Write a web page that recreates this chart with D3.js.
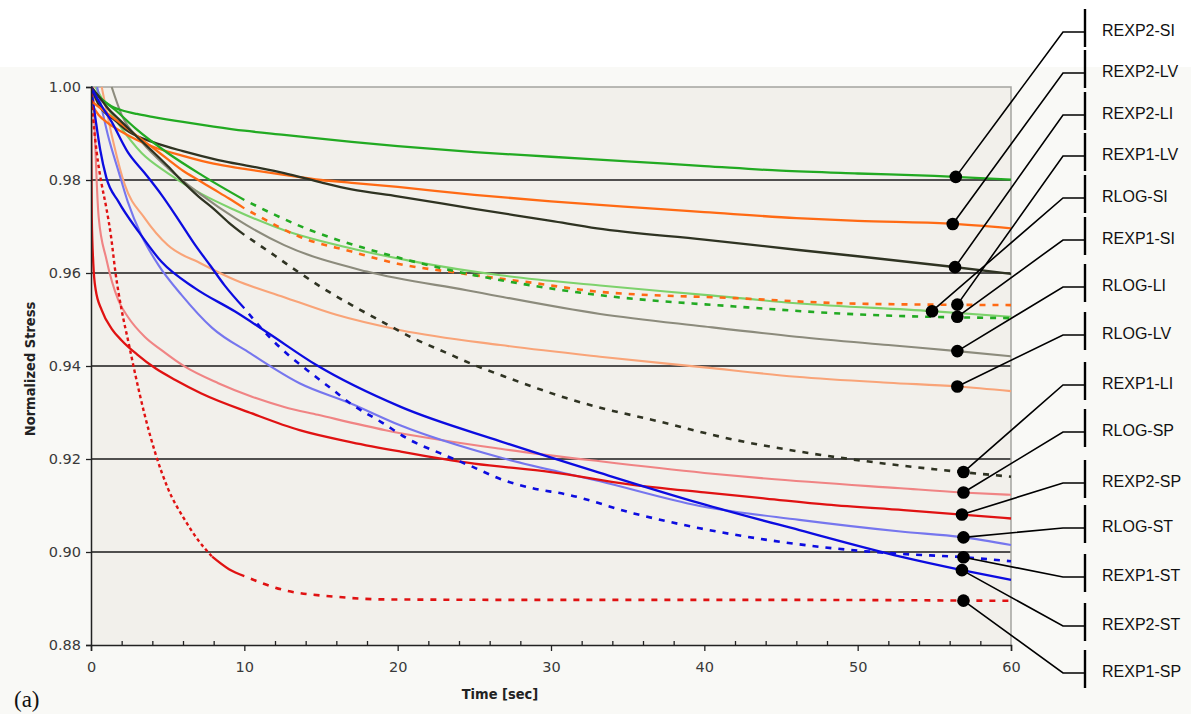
<!DOCTYPE html>
<html>
<head>
<meta charset="utf-8">
<script src="https://cdn.jsdelivr.net/npm/d3@7"></script>
<style>
  body { margin: 0; background: #fff; }
</style>
</head>
<body>
<svg width="1191" height="714"></svg>
<script>
// values: [time (sec), normalized stress]
var rexp2SI = [[0,1],[0.5,0.998],[1,0.9966],[1.5,0.9956],[2,0.995],[3,0.9942],[4,0.9936],[6,0.9925],[8,0.9915],[10,0.9906],[12.6,0.9897],[17,0.9882],[20,0.9873],[25,0.986],[30,0.985],[35,0.984],[40,0.983],[45,0.982],[50,0.9814],[55,0.9809],[60,0.9801]];
var rexp2LV = [[0,0.9965],[0.5,0.994],[1,0.9925],[2,0.9904],[3,0.9886],[4,0.9872],[6,0.9852],[8,0.9835],[10,0.9824],[12.6,0.9811],[15,0.98],[17,0.9794],[20,0.9785],[25,0.9768],[30,0.9754],[35,0.9742],[40,0.9731],[46,0.9718],[50,0.9712],[56,0.9706],[60,0.9696]];
var rexp2LI = [[0,1],[0.25,0.998],[0.5,0.9962],[1,0.9942],[1.5,0.993],[2.4,0.9905],[4,0.9882],[6,0.9862],[8.3,0.9843],[10.5,0.9829],[12.6,0.9815],[15,0.9795],[17,0.978],[20,0.9765],[25,0.9738],[30,0.9712],[33,0.9696],[40,0.9672],[46,0.965],[50,0.9636],[56,0.9614],[60,0.9598]];
var rexp1LV = [[0,0.997],[1,0.9945],[2,0.992],[3,0.9895],[4,0.987],[5,0.9845],[6,0.982],[7,0.98],[8,0.978],[9,0.976],[10,0.9739],[11,0.9721],[13.6,0.9678],[17,0.9646],[20,0.962],[24,0.96],[29,0.9578],[33,0.956],[42,0.9546],[50,0.9534],[60,0.9531]];
var rlogSI = [[0.3,1],[0.7,0.9976],[1.8,0.992],[3.3,0.9858],[5,0.9815],[7.2,0.977],[9.4,0.9735],[12.6,0.9692],[17.5,0.9649],[21,0.9625],[26.7,0.9595],[33.2,0.9573],[40,0.9553],[46,0.9535],[54.8,0.9518],[60,0.9506]];
var rexp1SI = [[0,1],[0.5,0.998],[1.6,0.995],[2.9,0.9911],[5,0.9858],[7.2,0.9811],[10,0.9757],[12,0.9725],[14,0.9696],[16,0.9672],[18,0.9652],[21,0.9625],[24,0.9602],[27,0.9583],[33,0.9553],[42,0.9528],[50,0.9511],[60,0.9503]];
var rlogLI = [[1.35,1],[2,0.994],[3.3,0.9882],[5,0.9826],[7.2,0.9768],[9.4,0.9718],[12.6,0.966],[18,0.9603],[24.5,0.9563],[33.2,0.9512],[40,0.9485],[46,0.9463],[52,0.9445],[56.5,0.9432],[60,0.9421]];
var rlogLV = [[0.7,1],[1.35,0.9897],[2.2,0.979],[3.5,0.9718],[5,0.966],[7.2,0.962],[9.4,0.9585],[12.6,0.9548],[16,0.951],[20.2,0.9477],[26.7,0.9445],[33.2,0.942],[40,0.9397],[46,0.9377],[52,0.9364],[56.5,0.9356],[60,0.9346]];
var rexp1LI = [[0,1],[0.5,0.998],[1,0.9958],[2,0.9925],[3,0.9893],[4,0.9862],[5,0.983],[6,0.9796],[7,0.9765],[8,0.9738],[9,0.9708],[10,0.9682],[12,0.9637],[13,0.9614],[15,0.957],[17,0.9531],[19,0.9495],[21,0.946],[23,0.9431],[25,0.9402],[27,0.9377],[29,0.9353],[31,0.9331],[33,0.9312],[36.5,0.9285],[42,0.9241],[46,0.9217],[50.6,0.9195],[55,0.9178],[60,0.9162]];
var rlogSP = [[0.15,1],[0.5,0.972],[1,0.963],[1.8,0.954],[2.4,0.9506],[3.5,0.9463],[4.6,0.9434],[6.1,0.9399],[8.3,0.9363],[10.5,0.9334],[12.6,0.9312],[14.8,0.9295],[19.2,0.9262],[26.7,0.9222],[33.2,0.9195],[40,0.917],[44,0.9158],[52.8,0.9137],[56.8,0.9128],[60,0.9123]];
var rexp2SP = [[0,0.995],[0.05,0.972],[0.15,0.962],[0.3,0.9565],[0.7,0.952],[1.35,0.948],[2,0.9455],[3,0.9425],[4.2,0.9395],[5.5,0.937],[7.2,0.9341],[10.5,0.9298],[13.6,0.9262],[17,0.9236],[20.2,0.9216],[25,0.919],[30,0.9172],[35,0.9146],[40,0.9128],[44,0.9115],[48,0.9102],[53,0.909],[57,0.908],[60,0.9072]];
var rlogST = [[0.4,1],[1.1,0.9897],[1.8,0.9818],[2.4,0.9753],[3.3,0.968],[4.4,0.9617],[5.9,0.9553],[7.9,0.9482],[10.4,0.9427],[13.6,0.9363],[16.9,0.932],[20.2,0.9272],[26.7,0.9203],[33.2,0.9152],[39.7,0.9099],[46.2,0.9069],[52.8,0.9044],[56.8,0.9032],[60,0.9015]];
var rexp1ST = [[0,1],[0.5,0.997],[1.35,0.9925],[2.4,0.986],[3.5,0.9815],[4.6,0.9768],[5.7,0.9715],[6.8,0.966],[7.8,0.9615],[8.7,0.9574],[10,0.9524],[11.7,0.946],[13,0.942],[14.1,0.9391],[15.8,0.9348],[16.9,0.932],[18.9,0.928],[20.8,0.9241],[22.8,0.9212],[24.9,0.9183],[26.7,0.9157],[28.8,0.9137],[31,0.9124],[35.4,0.9083],[39.7,0.9051],[44.1,0.9026],[48.4,0.9008],[52.8,0.8996],[56.8,0.8989],[60,0.898]];
var rexp2ST = [[0,1],[0.3,0.993],[0.6,0.9865],[1,0.9805],[1.8,0.9753],[3.1,0.9689],[4.6,0.9624],[6.8,0.9567],[9.4,0.9517],[11.5,0.9472],[14.7,0.9402],[20.2,0.9312],[26.7,0.9238],[33.2,0.917],[39.7,0.9105],[46.2,0.9047],[52.8,0.899],[56.8,0.8961],[60,0.894]];
var rexp1SP = [[0,1],[0.15,0.993],[0.37,0.986],[0.7,0.979],[1,0.974],[1.3,0.968],[1.6,0.96],[2,0.952],[2.45,0.945],[2.9,0.938],[3.5,0.9295],[4.2,0.9212],[5,0.9138],[6.1,0.907],[7,0.9025],[7.9,0.899],[9,0.8963],[10,0.8948],[12.6,0.8918],[15.9,0.8904],[19.2,0.8898],[30,0.8897],[45,0.8897],[60,0.8895]];

var xTicks = [0, 10, 20, 30, 40, 50, 60];
var yTicks = [0.88, 0.90, 0.92, 0.94, 0.96, 0.98, 1.00];

// legend order (top to bottom) and where the marker dot sits on each curve (sec)
var legendNames = ["REXP2-SI", "REXP2-LV", "REXP2-LI", "REXP1-LV", "RLOG-SI", "REXP1-SI", "RLOG-LI", "RLOG-LV",
                   "REXP1-LI", "RLOG-SP", "REXP2-SP", "RLOG-ST", "REXP1-ST", "REXP2-ST", "REXP1-SP"];
var legendData = [rexp2SI, rexp2LV, rexp2LI, rexp1LV, rlogSI, rexp1SI, rlogLI, rlogLV,
                  rexp1LI, rlogSP, rexp2SP, rlogST, rexp1ST, rexp2ST, rexp1SP];
var dotTimes = [56.4, 56.2, 56.35, 56.5, 54.85, 56.5, 56.5, 56.5, 56.9, 56.9, 56.8, 56.9, 56.9, 56.8, 56.9];

// layout of the label column
var legendY = [30, 71, 113, 154, 196, 238, 285, 333, 383, 430, 481, 526, 575, 624, 671];

var colors = {
    "SI": ["#22aa22", "#7dd26c"],
    "LV": ["#ff6a14", "#f9a478"],
    "LI": ["#2f3322", "#8c8b7c"],
    "SP": ["#e01212", "#f08484"],
    "ST": ["#0c0ce0", "#7676ee"]
};

var svg = d3.select("svg");

var x = d3.scaleLinear().domain([0, 60]).range([91, 1011]);
var y = d3.scaleLinear().domain([0.88, 1.0]).range([645, 87]);

// light panel behind the figure
svg.append("rect")
    .attr("x", 0).attr("y", 67)
    .attr("width", 1191).attr("height", 647)
    .attr("fill", "#f9f9f6");

// plot background
svg.append("rect")
    .attr("x", x(0)).attr("y", y(1))
    .attr("width", x(60) - x(0)).attr("height", y(0.88) - y(1))
    .attr("fill", "#f2f0eb");

svg.append("clipPath").attr("id", "plotclip")
    .append("rect")
    .attr("x", x(0)).attr("y", y(1) - 1)
    .attr("width", x(60) - x(0) + 1).attr("height", y(0.88) - y(1) + 1);

// grid lines
svg.append("g")
    .selectAll("line")
    .data(yTicks.filter(function (d) { return d > 0.885 && d < 0.995; }))
    .enter().append("line")
    .attr("x1", x(0)).attr("x2", x(60))
    .attr("y1", function (d) { return y(d); })
    .attr("y2", function (d) { return y(d); })
    .attr("stroke", "#1a1a1a")
    .attr("stroke-width", 1.3);

// top and right border
svg.append("path")
    .attr("d", "M" + x(0) + "," + y(1) + "H" + x(60) + "V" + y(0.88))
    .attr("fill", "none")
    .attr("stroke", "#a4a4a0")
    .attr("stroke-width", 1.5);

// curves
var line = d3.line()
    .x(function (d) { return x(d[0]); })
    .y(function (d) { return y(d[1]); })
    .curve(d3.curveMonotoneX);

var curves = svg.append("g").attr("clip-path", "url(#plotclip)");

function kindOf(name) { return name.split("-")[0]; }
function colorOf(name) {
    var c = colors[name.split("-")[1]];
    return kindOf(name) === "RLOG" ? c[1] : c[0];
}

function drawPart(data, from, to, col, width, dash) {
    var p = curves.append("path")
        .attr("d", line(data.filter(function (d) { return d[0] >= from && d[0] <= to; })))
        .attr("fill", "none")
        .attr("stroke", col)
        .attr("stroke-width", width);
    if (dash) p.attr("stroke-dasharray", dash);
}

// thin log curves first, then the thick exponential fits
var order = d3.range(legendNames.length).sort(function (a, b) {
    var rank = { "RLOG": 0, "REXP2": 1, "REXP1": 2 };
    return rank[kindOf(legendNames[a])] - rank[kindOf(legendNames[b])];
});

order.forEach(function (i) {
    var name = legendNames[i], data = legendData[i], kind = kindOf(name), col = colorOf(name);
    if (kind === "RLOG") {
        drawPart(data, 0, 60, col, 2.1);
    } else if (kind === "REXP2") {
        drawPart(data, 0, 60, col, 2.3);
    } else {
        // fitted on the first 10 sec, extrapolated (dashed) after that
        if (name === "REXP1-SP") {
            drawPart(data, 0, 7.9, col, 2.4, "3.5,3");
            drawPart(data, 7.9, 10, col, 2.3);
        } else {
            drawPart(data, 0, 10, col, 2.3);
        }
        drawPart(data, 10, 60, col, 2.6, "0,7,6,0");
    }
});

// axes
var yAxis = svg.append("g")
    .attr("transform", "translate(" + x(0) + ",0)")
    .call(d3.axisLeft(y).tickValues(yTicks).tickFormat(d3.format(".2f")).tickSize(5).tickPadding(5));

var xMinor = svg.append("g")
    .attr("transform", "translate(0," + y(0.88) + ")")
    .call(d3.axisBottom(x).tickValues(d3.range(0, 61, 2).filter(function (d) { return d % 10 !== 0; }))
        .tickSize(-4).tickFormat(""));

var xAxis = svg.append("g")
    .attr("transform", "translate(0," + y(0.88) + ")")
    .call(d3.axisBottom(x).tickValues(xTicks).tickSize(6).tickPadding(11));

[yAxis, xAxis, xMinor].forEach(function (g) {
    g.select(".domain").attr("stroke", "#222").attr("stroke-width", 1.5);
    g.selectAll(".tick line").attr("stroke", "#222").attr("stroke-width", 1.3);
    g.selectAll("text")
        .attr("font-family", "'DejaVu Sans', Verdana, sans-serif")
        .attr("font-size", 14.5)
        .attr("fill", "#3a3a3a");
});
xMinor.select(".domain").remove();

// axis titles
svg.append("text")
    .attr("x", 500).attr("y", 699)
    .attr("text-anchor", "middle")
    .attr("font-family", "'DejaVu Sans Condensed', 'DejaVu Sans', sans-serif")
    .attr("font-weight", "bold")
    .attr("font-size", 14.5)
    .attr("fill", "#222")
    .text("Time [sec]");

svg.append("text")
    .attr("transform", "translate(35,369) rotate(-90)")
    .attr("text-anchor", "middle")
    .attr("font-family", "'DejaVu Sans Condensed', 'DejaVu Sans', sans-serif")
    .attr("font-weight", "bold")
    .attr("font-size", 14.5)
    .attr("fill", "#222")
    .text("Normalized Stress");

svg.append("text")
    .attr("x", 14).attr("y", 707)
    .attr("font-family", "'Liberation Serif', 'Times New Roman', serif")
    .attr("font-size", 23)
    .attr("fill", "#111")
    .text("(a)");

// label column with leader lines to a dot on each curve
var legend = svg.append("g");

legendNames.forEach(function (name, i) {
    var data = legendData[i];
    var interp = d3.scaleLinear()
        .domain(data.map(function (d) { return d[0]; }))
        .range(data.map(function (d) { return d[1]; }));
    var dx = x(dotTimes[i]), dy = y(interp(dotTimes[i]));
    var ly = legendY[i];

    legend.append("polyline")
        .attr("points", [[dx, dy], [1063, ly + 2], [1085, ly + 2]].join(" "))
        .attr("fill", "none")
        .attr("stroke", "#000")
        .attr("stroke-width", 1.6);

    legend.append("line")
        .attr("x1", 1085).attr("x2", 1085)
        .attr("y1", ly - 21).attr("y2", ly + 17)
        .attr("stroke", "#000")
        .attr("stroke-width", 2.4);

    legend.append("circle")
        .attr("cx", dx).attr("cy", dy)
        .attr("r", 6.3)
        .attr("fill", "#000");

    legend.append("text")
        .attr("x", 1102).attr("y", ly)
        .attr("dy", "0.36em")
        .attr("font-family", "'Liberation Sans', Arial, sans-serif")
        .attr("font-size", 16)
        .attr("fill", "#111")
        .text(name);
});
</script>
</body>
</html>
